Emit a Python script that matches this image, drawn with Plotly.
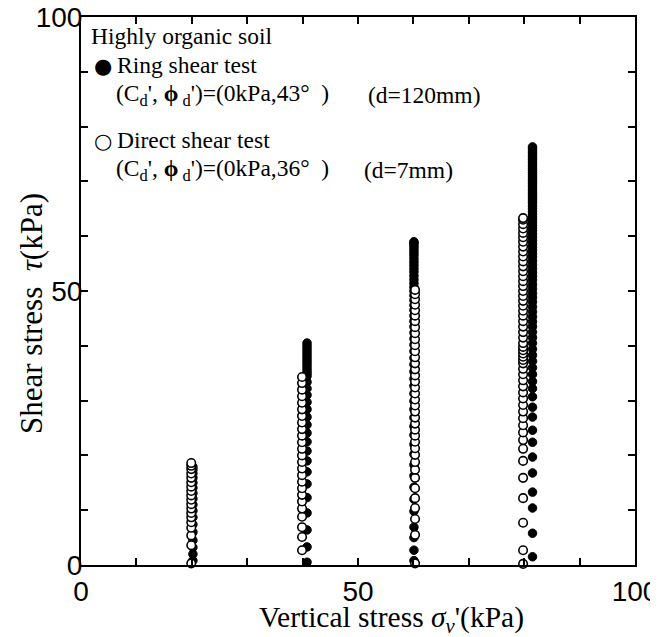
import plotly.graph_objects as go

# ---------------- data ----------------
# vertical stress level of each test column (kPa)
ring_sigma = [20.2, 40.8, 60.1, 81.5]
direct_sigma = [19.9, 39.9, 60.3, 79.8]

# shear stress readings (kPa) along each column
ring_tau_20 = [0.8, 2.0, 3.2, 4.5, 6.0, 7.4, 8.7, 9.9, 11.0, 12.1, 13.1, 14.1,
               15.0, 15.9, 16.7, 17.4, 17.9]
ring_tau_40 = [0.5, 3.3, 6.4, 9.5, 12.3, 14.8, 17.0, 19.0, 20.8, 22.5, 24.1,
               25.6, 27.0, 28.4, 29.7, 31.0, 32.2, 33.4, 34.5, 35.0, 35.5,
               36.0, 36.5, 37.0, 37.5, 38.0, 38.5, 39.0, 39.5, 40.0, 40.5]
ring_tau_60 = [0.8, 2.7, 5.0, 6.9, 9.8, 12.0, 14.2, 16.3, 18.3, 20.2, 22.0,
               23.7, 25.3, 26.9, 28.4, 29.9, 31.3, 32.7, 34.0, 35.3, 36.6,
               37.8, 39.0, 40.2, 41.3, 42.4, 43.5, 44.5, 45.5, 46.5, 47.4,
               48.3, 49.2, 50.0, 50.7, 51.4, 52.1, 52.8, 53.5, 54.1, 54.7,
               55.3, 55.9, 56.5, 57.0, 57.5, 58.0, 58.4, 58.8, 59.0]
ring_tau_80 = [1.5, 5.8, 10.4, 13.3, 16.8, 19.7, 22.4, 24.6, 27.0, 28.8, 30.7,
               32.2, 33.5, 34.8, 36.0, 37.2, 38.3, 39.4, 40.5, 41.5, 42.5,
               43.5, 44.4, 45.3, 46.2, 47.1, 48.0, 48.8, 49.6, 50.4, 51.2,
               52.0, 52.7, 53.4, 54.1, 54.8, 55.5, 56.2, 56.8, 57.4, 58.0,
               58.6, 59.2, 59.8, 60.4, 61.0, 61.5, 62.0, 62.5, 63.0, 63.5,
               64.0, 64.5, 65.0, 65.5, 66.0, 66.4, 66.8, 67.2, 67.6, 68.0,
               68.4, 68.8, 69.2, 69.6, 70.0, 70.4, 70.8, 71.2, 71.6, 72.0,
               72.4, 72.8, 73.2, 73.6, 74.0, 74.4, 74.8, 75.2, 75.6, 76.0,
               76.3]

direct_tau_20 = [0.3, 3.6, 5.4, 6.8, 7.8, 8.7, 9.5, 10.3, 11.1, 11.9, 12.7,
                 13.5, 14.3, 15.1, 15.9, 16.7, 17.5, 18.1, 18.6]
direct_tau_40 = [2.7, 5.1, 6.9, 8.8, 10.3, 11.6, 12.8, 14.0, 15.2, 16.4, 17.6,
                 18.8, 20.0, 21.2, 22.4, 23.6, 24.8, 26.0, 27.2, 28.4, 29.6,
                 30.8, 32.0, 33.2, 34.3]
direct_tau_60 = [0.3, 5.5, 8.4, 10.4, 12.2, 14.0, 15.9, 17.4, 18.8, 20.1, 21.3,
                 22.5, 23.6, 24.7, 25.8, 26.9, 28.0, 29.1, 30.2, 31.3, 32.4,
                 33.5, 34.6, 35.7, 36.8, 37.9, 39.0, 40.1, 41.2, 42.3, 43.4,
                 44.5, 45.5, 46.5, 47.5, 48.5, 49.4, 50.2]
direct_tau_80 = [0.2, 2.7, 7.7, 12.2, 15.9, 19.0, 21.2, 22.8, 24.2, 25.5, 26.8,
                 28.0, 29.2, 30.4, 31.5, 32.6, 33.7, 34.8, 35.8, 36.8, 37.4,
                 38.0, 38.6, 39.2, 39.8, 40.5, 41.5, 42.5, 43.5, 44.5, 45.5,
                 46.4, 47.3, 48.2, 49.1, 50.0, 50.9, 51.8, 52.7, 53.6, 54.5,
                 55.4, 56.3, 57.2, 58.1, 59.0, 59.8, 60.6, 61.4, 62.2, 63.0,
                 63.3]

ring_taus = [ring_tau_20, ring_tau_40, ring_tau_60, ring_tau_80]
direct_taus = [direct_tau_20, direct_tau_40, direct_tau_60, direct_tau_80]

x_ticks = [0, 50, 100]
y_ticks = [0, 50, 100]

# ---------------- build ----------------
def columns(sigmas, taus):
    xs, ys = [], []
    for s, t in zip(sigmas, taus):
        xs.extend([s] * len(t))
        ys.extend(t)
    return xs, ys

rx, ry = columns(ring_sigma, ring_taus)
dx, dy = columns(direct_sigma, direct_taus)

fig = go.Figure()
fig.add_trace(go.Scatter(
    x=rx, y=ry, mode="markers", name="Ring shear test",
    marker=dict(symbol="circle", size=8.5, color="black",
                line=dict(color="black", width=1)),
    cliponaxis=False))
fig.add_trace(go.Scatter(
    x=dx, y=dy, mode="markers", name="Direct shear test",
    marker=dict(symbol="circle", size=8.5, color="white",
                line=dict(color="black", width=1.6)),
    cliponaxis=False))

# page body has an 8px margin: compensate so the plot sits where the reference has it
OFF = 8
W, H = 650, 629
L, T = 81 - OFF, 17 - OFF
PW, PH = 554, 548
R, B = W - L - PW, H - T - PH

def px(p):
    return (p - OFF - L) / PW

def py(p):
    return (T + PH - (p - OFF)) / PH

serif = "Liberation Serif, Times New Roman, serif"
sans = "Liberation Sans, Arial, sans-serif"

ann = []
def text(x, y, s, size=23.5, family=serif, xanchor="left", angle=0):
    ann.append(dict(x=px(x), y=py(y), xref="paper", yref="paper", text=s,
                    showarrow=False, xanchor=xanchor, yanchor="middle",
                    textangle=angle,
                    font=dict(family=family, size=size, color="black")))

nb = "\u00a0"
text(89, 36, "Highly organic soil")
text(103, 66, "●", size=21, family="DejaVu Sans", xanchor="center")
text(115, 65, "Ring shear test")
text(114, 95, "(C<sub>d</sub>', <b>ϕ</b><sub>" + nb + "d</sub>')=(0kPa,43°" + nb * 2 + ")")
text(366, 95, "(d=120mm)")
text(103, 141, "○", size=21, family="DejaVu Sans", xanchor="center")
text(115, 140, "Direct shear test")
text(114, 170, "(C<sub>d</sub>', <b>ϕ</b><sub>" + nb + "d</sub>')=(0kPa,36°" + nb * 2 + ")")
text(362, 170, "(d=7mm)")

# axis titles
text(391, 619, "Vertical stress <i>σ</i><sub><i>v</i></sub>'(kPa)", size=29.5,
     xanchor="center")
text(31, 314, "Shear stress" + nb * 2 + "<i>τ</i>(kPa)", size=31,
     xanchor="center", angle=-90)

axis_common = dict(
    range=[0, 100], showgrid=False, zeroline=False, automargin=False,
    showline=True, linecolor="black", linewidth=2, mirror="ticks",
    ticks="inside", ticklen=7, tickwidth=1.5, tickcolor="black",
    ticklabeloverflow="allow",
    tickfont=dict(family=sans, size=28, color="black"),
    minor=dict(dtick=10, ticks="inside", ticklen=7, tickwidth=1.5,
               tickcolor="black", showgrid=False),
)

fig.update_xaxes(tickvals=x_ticks, ticktext=[str(v) for v in x_ticks],
                 ticklabelstandoff=0, **axis_common)
fig.update_yaxes(tickvals=y_ticks, ticktext=[str(v) for v in y_ticks],
                 ticklabelstandoff=-9, **axis_common)

fig.update_layout(
    width=W, height=H,
    margin=dict(l=L, r=R, t=T, b=B),
    paper_bgcolor="white", plot_bgcolor="white",
    showlegend=False,
    annotations=ann,
)

fig.write_html("out.html")
